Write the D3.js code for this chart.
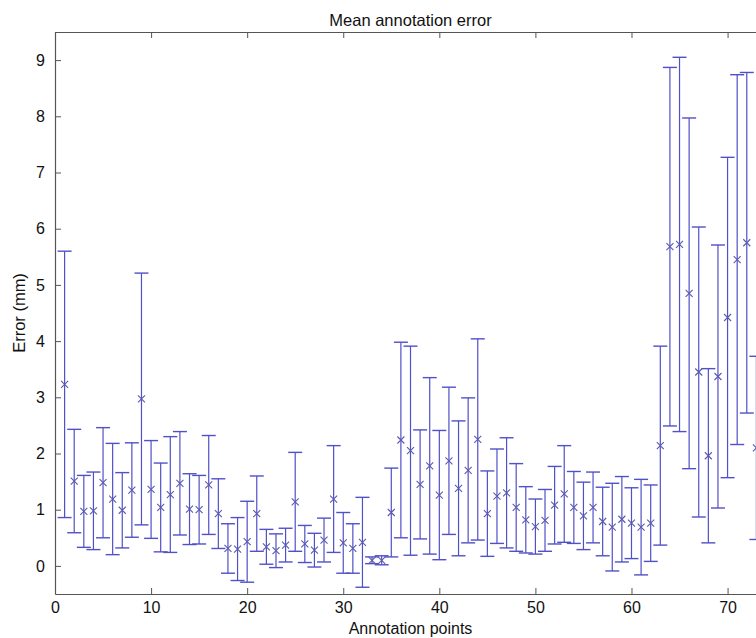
<!DOCTYPE html>
<html>
<head>
<meta charset="utf-8">
<script src="https://cdn.jsdelivr.net/npm/d3@7.9.0/dist/d3.min.js"></script>
<style>
  html, body { margin: 0; padding: 0; background: #fff; overflow: hidden; }
  svg { display: block; font-family: "Liberation Sans", Arial, Helvetica, sans-serif; }
</style>
</head>
<body>
<svg id="chart" width="756" height="638"></svg>
<script>
// ---------- Data ----------
const points = d3.range(1, 74); // annotation points 1..73

// mean annotation error (mm) for each point
const means = [
  3.23, 1.51, 0.97, 0.98, 1.48, 1.19, 0.99, 1.35, 2.97, 1.36,
  1.04, 1.27, 1.47, 1.01, 1.00, 1.44, 0.93, 0.31, 0.30, 0.43,
  0.93, 0.34, 0.27, 0.37, 1.14, 0.39, 0.28, 0.46, 1.19, 0.41,
  0.31, 0.42, 0.10, 0.10, 0.95, 2.24, 2.05, 1.45, 1.78, 1.26,
  1.87, 1.38, 1.70, 2.25, 0.93, 1.24, 1.30, 1.04, 0.82, 0.70,
  0.81, 1.08, 1.28, 1.04, 0.89, 1.04, 0.79, 0.69, 0.83, 0.76,
  0.69, 0.76, 2.14, 5.68, 5.72, 4.85, 3.45, 1.96, 3.37, 4.42,
  5.45, 5.75, 2.10
];

// half length of each error bar (mm)
const errs = [
  2.37, 0.92, 0.64, 0.69, 0.98, 0.99, 0.67, 0.84, 2.24, 0.87,
  0.79, 1.03, 0.92, 0.63, 0.61, 0.88, 0.62, 0.44, 0.56, 0.72,
  0.67, 0.31, 0.30, 0.30, 0.88, 0.33, 0.30, 0.39, 0.95, 0.54,
  0.44, 0.80, 0.06, 0.08, 0.79, 1.74, 1.86, 0.97, 1.57, 1.15,
  1.31, 1.20, 1.29, 1.79, 0.76, 0.84, 0.98, 0.78, 0.59, 0.49,
  0.55, 0.69, 0.86, 0.64, 0.60, 0.63, 0.61, 0.78, 0.76, 0.63,
  0.85, 0.68, 1.77, 3.19, 3.33, 3.12, 2.58, 1.55, 2.34, 2.85,
  3.29, 3.03, 1.63
];

const xTicks = [0, 10, 20, 30, 40, 50, 60, 70];
const yTicks = [0, 1, 2, 3, 4, 5, 6, 7, 8, 9];

const data = points.map((p, i) => ({ x: p, mean: means[i], err: errs[i] }));

// ---------- Layout ----------
const svg = d3.select("#chart");
const plotLeft = 55, plotRight = 766, plotTop = 32, plotBottom = 594;

const x = d3.scaleLinear().domain([0, 74]).range([plotLeft, plotRight]);
const y = d3.scaleLinear().domain([-0.5, 9.5]).range([plotBottom, plotTop]);

const axisColor = "#555";
const barColor = "#5050c8";
const capHalf = 7;

// ---------- Axes (MATLAB style: ticks inside) ----------
const xAxisBottom = svg.append("g")
  .attr("transform", `translate(0,${plotBottom})`)
  .call(d3.axisBottom(x).tickValues(xTicks).tickSizeInner(-6).tickSizeOuter(0).tickPadding(8));

const xAxisTop = svg.append("g")
  .attr("transform", `translate(0,${plotTop})`)
  .call(d3.axisTop(x).tickValues(xTicks).tickSizeInner(-6).tickSizeOuter(0).tickFormat(""));

const yAxisLeft = svg.append("g")
  .attr("transform", `translate(${plotLeft},0)`)
  .call(d3.axisLeft(y).tickValues(yTicks).tickSizeInner(-6).tickSizeOuter(0).tickPadding(10));

[xAxisBottom, xAxisTop, yAxisLeft].forEach((g) => {
  g.select(".domain").attr("stroke", axisColor).attr("stroke-width", 1.2);
  g.selectAll(".tick line").attr("stroke", axisColor);
  g.selectAll(".tick text")
    .attr("fill", "#111")
    .style("font-size", "16px")
    .style("font-family", '"Liberation Sans", Arial, sans-serif');
});

// ---------- Error bars ----------
const bars = svg.append("g");

bars.selectAll("line.stem")
  .data(data)
  .join("line")
  .attr("class", "stem")
  .attr("x1", (d) => x(d.x))
  .attr("x2", (d) => x(d.x))
  .attr("y1", (d) => y(d.mean - d.err))
  .attr("y2", (d) => y(d.mean + d.err))
  .attr("stroke", barColor)
  .attr("stroke-width", 1.2);

// caps, top and bottom
["lo", "hi"].forEach((end) => {
  bars.selectAll(`line.cap-${end}`)
    .data(data)
    .join("line")
    .attr("class", `cap-${end}`)
    .attr("x1", (d) => x(d.x) - capHalf)
    .attr("x2", (d) => x(d.x) + capHalf)
    .attr("y1", (d) => y(end === "lo" ? d.mean - d.err : d.mean + d.err))
    .attr("y2", (d) => y(end === "lo" ? d.mean - d.err : d.mean + d.err))
    .attr("stroke", barColor)
    .attr("stroke-width", 1.4);
});

// x markers for the mean
const m = 3.5;
bars.selectAll("path.mark")
  .data(data)
  .join("path")
  .attr("class", "mark")
  .attr("d", (d) => {
    const cx = x(d.x), cy = y(d.mean);
    return `M${cx - m},${cy - m}L${cx + m},${cy + m}M${cx - m},${cy + m}L${cx + m},${cy - m}`;
  })
  .attr("stroke", "#5a5ab0")
  .attr("stroke-width", 1.1)
  .attr("fill", "none");

// ---------- Labels ----------
svg.append("text")
  .attr("x", (plotLeft + plotRight) / 2)
  .attr("y", 26)
  .attr("text-anchor", "middle")
  .style("font-size", "16.5px")
  .attr("fill", "#111")
  .text("Mean annotation error");

svg.append("text")
  .attr("x", (plotLeft + plotRight) / 2)
  .attr("y", 634)
  .attr("text-anchor", "middle")
  .style("font-size", "16px")
  .attr("fill", "#111")
  .text("Annotation points");

svg.append("text")
  .attr("transform", `translate(25,${(plotTop + plotBottom) / 2}) rotate(-90)`)
  .attr("text-anchor", "middle")
  .style("font-size", "16.5px")
  .attr("fill", "#111")
  .text("Error (mm)");
</script>
</body>
</html>
